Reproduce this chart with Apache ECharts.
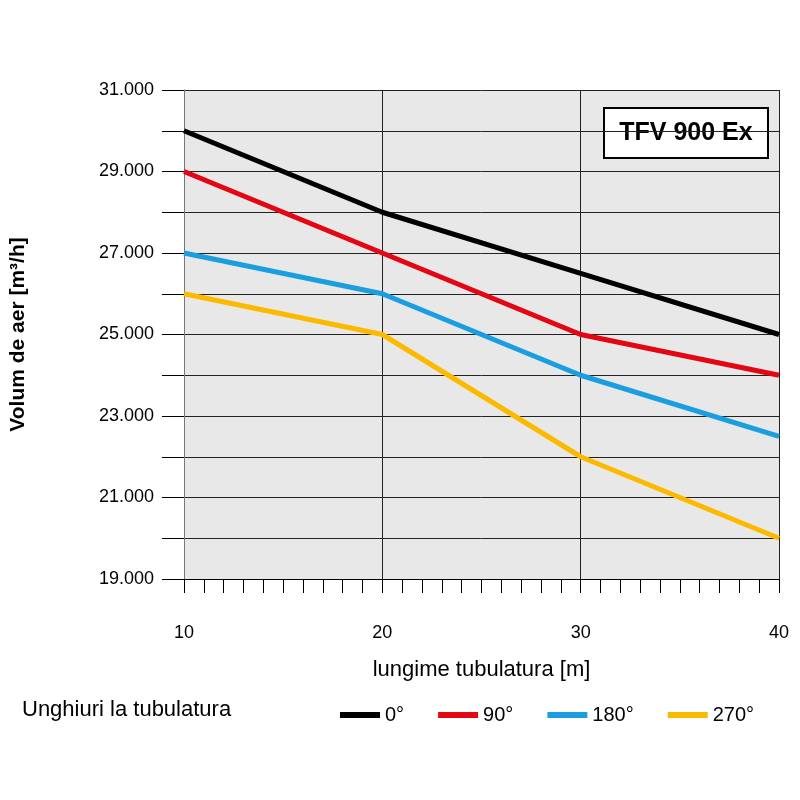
<!DOCTYPE html>
<html><head><meta charset="utf-8">
<script src="https://cdn.jsdelivr.net/npm/echarts@6/dist/echarts.min.js"></script>
<style>html,body{margin:0;background:#fff}#c{width:800px;height:800px}</style></head>
<body><div id="c"></div>
<script>
const lengths = [10, 20, 30, 40];
const seriesNames = ['0°', '90°', '180°', '270°'];
const v0 = [30000, 28000, 26500, 25000];
const v90 = [29000, 27000, 25000, 24000];
const v180 = [27000, 26000, 24000, 22500];
const v270 = [26000, 25000, 22000, 20000];
const colors = ['#000000', '#e30613', '#1a9ee0', '#fbb900'];
const F = "'Liberation Sans Narrow','Liberation Sans',sans-serif";
const all = [v0, v90, v180, v270];
const chart = echarts.init(document.getElementById('c'));
chart.setOption({
  animation: false,
  textStyle: {fontFamily: F},
  grid: {left: 181, right: 21, top: 90, bottom: 221, show: true, backgroundColor: '#e8e8e8', borderWidth: 0},
  legend: {left: 335, top: 700, itemWidth: 40, itemHeight: 6, itemGap: 34, icon: 'rect',
    textStyle: {fontSize: 20, color: '#000', fontFamily: F}, data: seriesNames},
  graphic: [
    {type: 'text', left: 22, top: 699, style: {text: 'Unghiuri la tubulatura', fontSize: 22, fill: '#000', fontFamily: F}},
    {type: 'rect', shape: {x: 604, y: 108, width: 164, height: 50}, style: {fill: '#fff', stroke: '#000', lineWidth: 2}},
    {type: 'text', x: 686, y: 133, style: {text: 'TFV 900 Ex', fontSize: 25, fontWeight: 'bold', fill: '#000', fontFamily: F, align: 'center', verticalAlign: 'middle'}}
  ],
  xAxis: [
    {type: 'value', min: 10, max: 40, interval: 10, position: 'bottom',
      name: 'lungime tubulatura [m]', nameLocation: 'middle', nameGap: 80,
      nameTextStyle: {fontSize: 22, color: '#000'},
      axisLine: {show: false}, axisTick: {show: false},
      axisLabel: {fontSize: 18, color: '#000', margin: 45},
      splitLine: {show: true, lineStyle: {color: '#222', width: 1}}},
    {type: 'value', min: 10, max: 40, interval: 1, position: 'bottom',
      axisLine: {show: true, lineStyle: {color: '#000', width: 1}},
      axisTick: {show: true, inside: false, length: 14, lineStyle: {color: '#000'}},
      axisLabel: {show: false}, splitLine: {show: false}}
  ],
  yAxis: {type: 'value', min: 19000, max: 31000, interval: 1000,
    name: 'Volum de aer [m³/h]', nameLocation: 'middle', nameGap: 155,
    nameTextStyle: {fontSize: 21, color: '#000', fontWeight: 'bold'},
    axisLine: {show: true, lineStyle: {color: '#777'}},
    axisTick: {show: true, length: 22, lineStyle: {color: '#000'}},
    axisLabel: {fontSize: 18, color: '#000', margin: 30,
      formatter: v => (v / 1000) % 2 === 1 ? (v / 1000) + '.000' : ''},
    splitLine: {show: true, lineStyle: {color: '#222', width: 1}}},
  series: all.map((d, i) => ({
    name: seriesNames[i], type: 'line', xAxisIndex: 0, symbol: 'none',
    lineStyle: {width: 5, color: colors[i]}, itemStyle: {color: colors[i]},
    data: lengths.map((x, j) => [x, d[j]])
  }))
});
</script></body></html>
